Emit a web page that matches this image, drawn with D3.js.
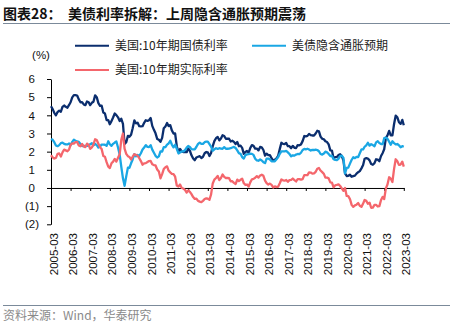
<!DOCTYPE html>
<html><head><meta charset="utf-8">
<script src="https://cdn.jsdelivr.net/npm/d3@7/dist/d3.min.js"></script>
<style>body{margin:0;background:#fff}svg{display:block}</style>
</head><body>
<svg id="chart" width="450" height="325"></svg>
<script>
// ---------- data (monthly, 2005-03 .. 2023-03) ----------
const firstMonth = "2005-03";
const lastMonth = "2023-03";
const xTickLabels = ["2005-03","2006-03","2007-03","2008-03","2009-03","2010-03","2011-03","2012-03","2013-03","2014-03","2015-03","2016-03","2017-03","2018-03","2019-03","2020-03","2021-03","2022-03","2023-03"];
const yTickValues = [6,5,4,3,2,1,0,-1,-2];
const seriesNames = ["美国:10年期国债利率","美债隐含通胀预期","美国:10年期实际利率"];

const nominal10y = [
 4.50,4.34,4.14,4.00,4.18,4.26,4.20,4.46,4.54,4.47,
 4.42,4.57,4.72,4.99,5.11,5.11,5.09,4.88,4.72,4.73,4.60,4.56,
 4.76,4.72,4.56,4.69,4.75,5.10,5.00,4.67,4.52,4.53,4.15,4.10,
 3.74,3.74,3.51,3.68,3.88,4.10,4.01,3.89,3.69,3.81,3.53,2.42,
 2.52,2.87,2.82,2.93,3.29,3.72,3.56,3.59,3.40,3.39,3.40,3.59,
 3.73,3.69,3.73,3.85,3.42,3.20,3.01,2.70,2.65,2.54,2.76,3.29,
 3.39,3.58,3.41,3.46,3.17,3.00,3.00,2.30,1.98,2.15,2.01,1.98,
 1.97,1.97,2.17,2.05,1.80,1.62,1.53,1.68,1.72,1.75,1.65,1.72,
 1.91,1.98,1.96,1.76,1.93,2.30,2.58,2.74,2.81,2.62,2.72,2.90,
 2.86,2.71,2.72,2.71,2.56,2.60,2.54,2.42,2.53,2.30,2.33,2.21,
 1.88,1.98,2.04,1.94,2.20,2.36,2.32,2.17,2.17,2.07,2.26,2.24,
 2.09,1.78,1.89,1.81,1.81,1.64,1.50,1.56,1.63,1.76,2.14,2.49,
 2.43,2.42,2.48,2.30,2.30,2.19,2.32,2.21,2.20,2.36,2.35,2.40,
 2.58,2.86,2.84,2.87,2.98,2.91,2.89,2.89,3.00,3.15,3.12,2.83,
 2.71,2.68,2.57,2.53,2.40,2.07,2.06,1.63,1.70,1.71,1.81,1.86,
 1.76,1.50,0.80,0.66,0.67,0.73,0.62,0.65,0.68,0.79,0.87,0.93,
 1.08,1.26,1.61,1.64,1.62,1.52,1.32,1.28,1.37,1.58,1.56,1.47,
 1.76,1.93,2.13,2.75,2.90,3.14,2.90,2.90,3.52,3.98,3.89,3.62,
 3.53,3.75,3.45
];
const breakeven10y = [
 2.70,2.65,2.52,2.34,2.30,2.36,2.47,2.50,2.43,2.40,
 2.40,2.45,2.35,2.54,2.66,2.59,2.56,2.54,2.42,2.31,2.31,2.31,
 2.32,2.35,2.41,2.46,2.35,2.42,2.36,2.23,2.28,2.39,2.39,2.38,
 2.32,2.57,2.41,2.32,2.43,2.50,2.56,2.23,1.83,1.16,0.53,0.12,
 0.64,1.12,1.11,1.36,1.57,1.86,1.74,1.82,1.76,1.91,2.12,2.23,
 2.36,2.26,2.25,2.36,2.11,1.94,1.77,1.68,1.74,2.01,2.00,2.25,
 2.25,2.39,2.45,2.60,2.39,2.24,2.38,2.16,1.90,1.96,2.01,2.01,
 2.08,2.22,2.31,2.26,2.14,2.12,2.13,2.27,2.43,2.50,2.43,2.43,
 2.52,2.55,2.55,2.41,2.28,2.05,2.12,2.19,2.15,2.19,2.17,2.16,
 2.25,2.16,2.16,2.17,2.19,2.23,2.26,2.20,2.07,1.92,1.88,1.70,
 1.62,1.81,1.85,1.86,1.89,1.88,1.82,1.61,1.52,1.50,1.57,1.51,
 1.42,1.37,1.62,1.62,1.57,1.47,1.47,1.47,1.58,1.69,1.88,2.02,
 2.01,2.02,2.04,1.96,1.87,1.74,1.80,1.78,1.84,1.87,1.86,1.94,
 2.09,2.15,2.13,2.16,2.12,2.06,2.10,2.09,2.11,2.09,2.02,1.87,
 1.84,1.90,2.00,1.96,1.87,1.76,1.76,1.59,1.55,1.54,1.61,1.75,
 1.78,1.66,0.80,1.10,1.12,1.34,1.54,1.69,1.64,1.71,1.70,1.91,
 2.12,2.12,2.27,2.35,2.49,2.33,2.41,2.36,2.30,2.51,2.58,2.47,
 2.42,2.42,2.74,2.77,2.71,2.55,2.38,2.57,2.47,2.40,2.42,2.35,
 2.24,2.30,2.27
];
const real10y = [
 1.80,1.69,1.62,1.66,1.88,1.90,1.73,1.96,2.11,2.07,
 2.02,2.12,2.37,2.45,2.45,2.52,2.53,2.34,2.30,2.42,2.29,2.25,
 2.44,2.37,2.15,2.23,2.40,2.68,2.64,2.44,2.24,2.14,1.76,1.72,
 1.42,1.17,1.10,1.36,1.45,1.60,1.45,1.66,1.86,2.65,3.00,2.17,
 1.88,1.75,1.71,1.57,1.72,1.86,1.82,1.77,1.64,1.48,1.28,1.36,
 1.37,1.43,1.48,1.49,1.31,1.26,1.24,1.02,0.91,0.53,0.76,1.04,
 1.14,1.19,0.96,0.86,0.78,0.76,0.62,0.14,0.08,0.19,0.00,-0.03,
 -0.11,-0.25,-0.14,-0.21,-0.34,-0.50,-0.60,-0.59,-0.71,-0.75,-0.78,-0.71,
 -0.61,-0.57,-0.59,-0.65,-0.35,0.25,0.46,0.55,0.66,0.43,0.55,0.74,
 0.61,0.55,0.56,0.54,0.37,0.37,0.28,0.22,0.46,0.38,0.45,0.51,
 0.26,0.17,0.19,0.08,0.31,0.48,0.50,0.56,0.65,0.57,0.69,0.73,
 0.67,0.41,0.27,0.19,0.24,0.17,0.03,0.09,0.05,0.07,0.26,0.47,
 0.42,0.40,0.44,0.34,0.43,0.45,0.52,0.43,0.36,0.49,0.49,0.46,
 0.49,0.71,0.71,0.71,0.86,0.85,0.79,0.80,0.89,1.06,1.10,0.96,
 0.87,0.78,0.57,0.57,0.53,0.31,0.30,0.04,0.15,0.17,0.20,0.11,
 -0.02,-0.16,0.00,-0.44,-0.45,-0.61,-0.92,-1.04,-0.96,-0.92,-0.83,-0.98,
 -1.04,-0.86,-0.66,-0.71,-0.87,-0.81,-1.09,-1.08,-0.93,-0.93,-1.02,-1.00,
 -0.66,-0.49,-0.61,-0.02,0.19,0.59,0.52,0.33,1.05,1.58,1.47,1.27,
 1.29,1.45,1.18
];
const seriesColors = ["#0b2e6e","#1aa7e4","#f4666c"];

// ---------- build ----------
const parseM = d3.timeParse("%Y-%m");
const months = d3.timeMonth.range(parseM(firstMonth), d3.timeMonth.offset(parseM(lastMonth),1));
const seriesData = [nominal10y, breakeven10y, real10y];

const svg = d3.select("#chart");
const plotLeft = 51, plotRight = 404, plotTop = 79, plotBottom = 224.3;

const x = d3.scaleTime()
  .domain([parseM(firstMonth), d3.timeDay.offset(parseM(lastMonth), 4)])
  .range([plotLeft, plotRight]);
const y = d3.scaleLinear().domain([-2, 6]).range([plotBottom, plotTop]);

const fmtY = v => v < 0 ? "(" + Math.abs(v) + ")" : String(v);
const font = "'Liberation Sans', Arial, sans-serif";
const cjk = "'Noto Sans CJK SC', sans-serif";

// title
svg.append("text").attr("x", 3).attr("y", 19).text("图表28：")
  .attr("font-family", cjk).attr("font-weight", 700).attr("font-size", 14).attr("fill", "#111");
svg.append("text").attr("x", 68).attr("y", 19).text("美债利率拆解：上周隐含通胀预期震荡")
  .attr("font-family", cjk).attr("font-weight", 700).attr("font-size", 14).attr("fill", "#111");
svg.append("line").attr("x1", 3).attr("x2", 450).attr("y1", 23.5).attr("y2", 23.5)
  .attr("stroke", "#7b8a9a").attr("stroke-width", 1.2);

// source
svg.append("line").attr("x1", 3).attr("x2", 450).attr("y1", 305.5).attr("y2", 305.5)
  .attr("stroke", "#7b8a9a").attr("stroke-width", 1);
svg.append("text").attr("x", 3).attr("y", 320).text("资料来源：Wind，华泰研究")
  .attr("font-family", cjk).attr("font-size", 12).attr("fill", "#8a8a8a");

// unit
svg.append("text").attr("x", 41).attr("y", 55).attr("dy", "0.35em").attr("text-anchor", "middle")
  .text("(%)").attr("font-family", font).attr("font-size", 11.5).attr("fill", "#111");

// y axis
const yAxis = svg.append("g").attr("transform", `translate(${plotLeft},0)`)
  .call(d3.axisLeft(y).tickValues(yTickValues).tickSize(4).tickSizeOuter(0).tickFormat(fmtY));
yAxis.select(".domain").attr("stroke", "#000");
yAxis.selectAll(".tick line").attr("stroke", "#000");
yAxis.selectAll(".tick text").attr("font-family", font).attr("font-size", 11.5).attr("fill", "#111")
  .attr("x", d => d < 0 ? -12 : -16);

// x axis at zero
const xTickDates = xTickLabels.map(parseM);
const xAxis = svg.append("g").attr("transform", `translate(0,${y(0)})`)
  .call(d3.axisBottom(x).tickValues(xTickDates).tickSize(3).tickSizeOuter(0).tickFormat(""));
xAxis.select(".domain").attr("stroke", "#000");
xAxis.selectAll(".tick line").attr("stroke", "#000");

// x labels at bottom
svg.append("g").selectAll("text").data(xTickDates).join("text")
  .attr("transform", d => `translate(${x(d) + 2.5},233) rotate(-90)`)
  .attr("text-anchor", "end").attr("dy", "0.35em")
  .attr("font-family", font).attr("font-size", 11.5).attr("fill", "#111")
  .text((d, i) => xTickLabels[i]);

// lines
const line = d3.line().x(d => x(d[0])).y(d => y(d[1]));
seriesData.forEach((vals, i) => {
  svg.append("path")
    .datum(months.map((m, j) => [m, vals[j]]).filter(d => d[1] !== undefined))
    .attr("d", line).attr("fill", "none")
    .attr("stroke", seriesColors[i]).attr("stroke-width", 2.3).attr("stroke-linejoin", "round");
});

// legend
const legendItems = [
  {name: seriesNames[0], color: seriesColors[0], lx: 75, ly: 45.7},
  {name: seriesNames[1], color: seriesColors[1], lx: 252, ly: 45.7},
  {name: seriesNames[2], color: seriesColors[2], lx: 75, ly: 70}
];
const lg = svg.append("g").selectAll("g").data(legendItems).join("g");
lg.append("line").attr("x1", d => d.lx).attr("x2", d => d.lx + 34)
  .attr("y1", d => d.ly).attr("y2", d => d.ly).attr("stroke", d => d.color).attr("stroke-width", 2);
lg.append("text").attr("x", d => d.lx + 40).attr("y", d => d.ly).attr("dy", "0.35em")
  .attr("font-family", cjk).attr("font-size", 12).attr("fill", "#222").text(d => d.name);
</script>
</body></html>
